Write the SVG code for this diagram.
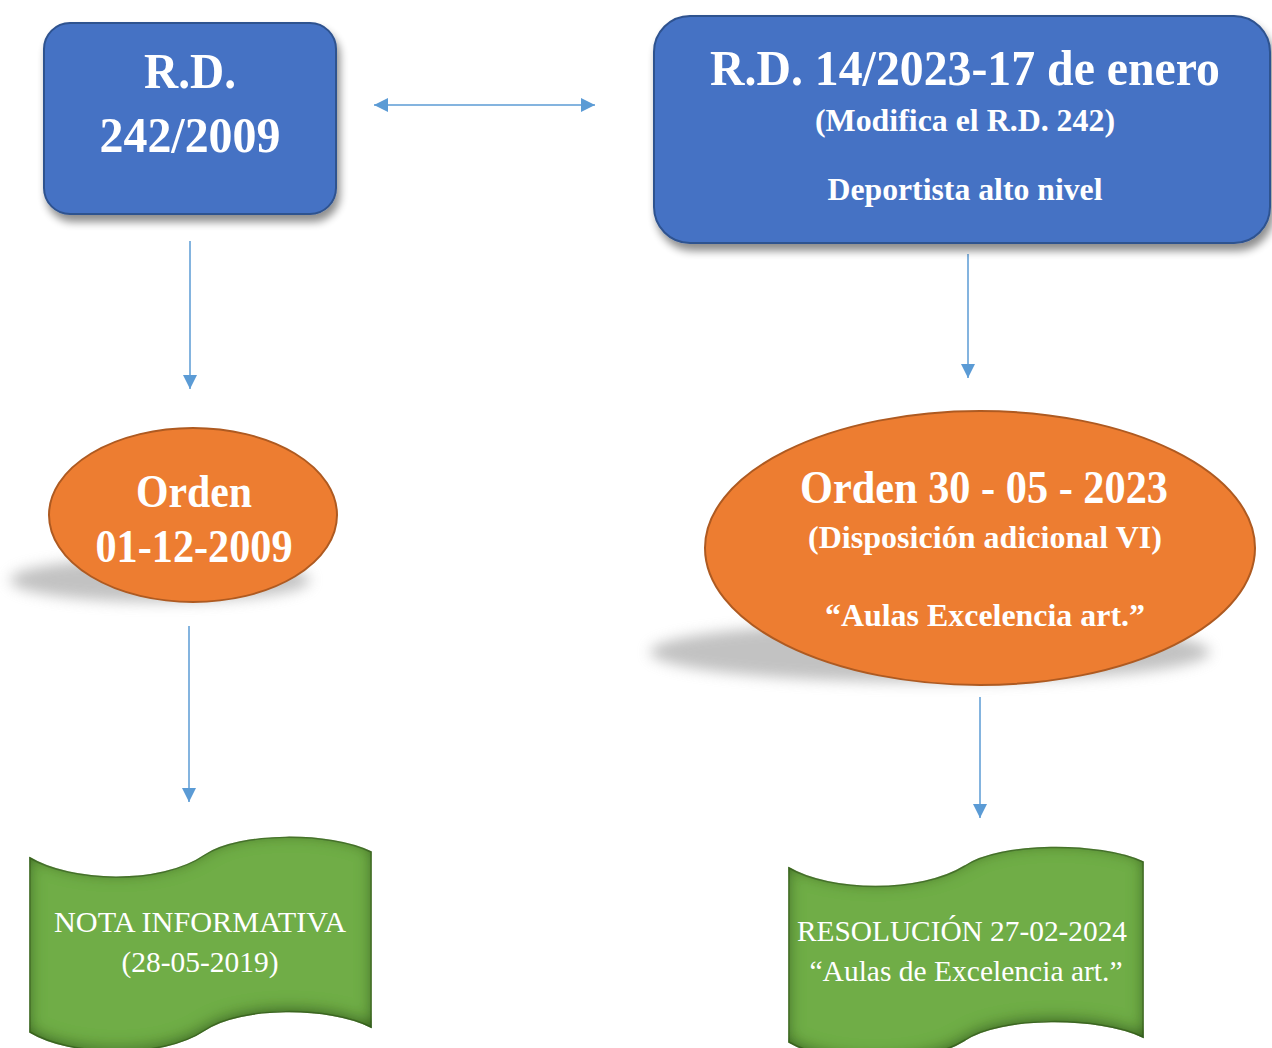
<svg xmlns="http://www.w3.org/2000/svg" width="1272" height="1048" viewBox="0 0 1272 1048">
<defs>
<style>
.box{fill:#4472C4;stroke:#2F528F;stroke-width:2}
.ell{fill:#ED7D31;stroke:#AE5A21;stroke-width:2}
.ban{fill:#70AD47;stroke:#507E32;stroke-width:1.5}
.bt{font-family:"Liberation Serif","Times New Roman",serif;font-weight:bold;fill:#fff;text-anchor:middle}
.rt{font-family:"Liberation Serif","Times New Roman",serif;fill:#fff;text-anchor:middle}
.con{stroke:#5B9BD5;stroke-width:1.5;fill:none}
</style>
<marker id="ah2" viewBox="0 0 10 10" refX="10" refY="5" markerWidth="14" markerHeight="14" markerUnits="userSpaceOnUse" orient="auto-start-reverse">
<path d="M0,0 L10,5 L0,10 Z" fill="#5B9BD5"/>
</marker>
<filter id="ds" x="-10%" y="-10%" width="130%" height="140%">
<feGaussianBlur in="SourceAlpha" stdDeviation="4"/>
<feOffset dx="3" dy="7" result="b"/>
<feComponentTransfer><feFuncA type="linear" slope="0.45"/></feComponentTransfer>
<feMerge><feMergeNode/><feMergeNode in="SourceGraphic"/></feMerge>
</filter>
<filter id="blur" x="-20%" y="-50%" width="140%" height="200%">
<feGaussianBlur stdDeviation="7"/>
</filter>
<filter id="inner" x="-5%" y="-5%" width="110%" height="110%">
<feFlood flood-color="#2a5212" flood-opacity="1"/>
<feComposite in2="SourceAlpha" operator="out"/>
<feGaussianBlur stdDeviation="8"/>
<feOffset dx="0" dy="-3"/>
<feComposite in2="SourceAlpha" operator="in" result="glow"/>
<feMerge><feMergeNode in="SourceGraphic"/><feMergeNode in="glow"/></feMerge>
</filter>
</defs>
<rect width="1272" height="1048" fill="#fff"/>

<g id="connectors">
<line class="con" x1="374" y1="105" x2="595" y2="105" marker-start="url(#ah2)" marker-end="url(#ah2)"/>
<line class="con" x1="190" y1="241" x2="190" y2="389" marker-end="url(#ah2)"/>
<line class="con" x1="968" y1="254" x2="968" y2="378" marker-end="url(#ah2)"/>
<line class="con" x1="189" y1="626" x2="189" y2="802" marker-end="url(#ah2)"/>
<line class="con" x1="980" y1="697" x2="980" y2="818" marker-end="url(#ah2)"/>
</g>

<g id="rd242">
<rect class="box" x="44" y="23" width="292" height="191" rx="26" filter="url(#ds)"/>
<text class="bt" x="190" y="88" font-size="50" textLength="92" lengthAdjust="spacingAndGlyphs">R.D.</text>
<text class="bt" x="190" y="152" font-size="50" textLength="181" lengthAdjust="spacingAndGlyphs">242/2009</text>
</g>

<g id="rd14">
<rect class="box" x="654" y="16" width="616" height="227" rx="36" filter="url(#ds)"/>
<text class="bt" x="965" y="85" font-size="50" textLength="510" lengthAdjust="spacingAndGlyphs">R.D. 14/2023-17 de enero</text>
<text class="bt" x="965" y="131" font-size="32" textLength="300" lengthAdjust="spacingAndGlyphs">(Modifica el R.D. 242)</text>
<text class="bt" x="965" y="200" font-size="32" textLength="275" lengthAdjust="spacingAndGlyphs">Deportista alto nivel</text>
</g>

<g id="orden2009">
<ellipse cx="160" cy="580" rx="150" ry="22" fill="#9a9a9a" opacity="0.6" filter="url(#blur)"/>
<ellipse class="ell" cx="193" cy="515" rx="144" ry="87"/>
<text class="bt" x="194" y="507" font-size="46" textLength="116" lengthAdjust="spacingAndGlyphs">Orden</text>
<text class="bt" x="194" y="562" font-size="46" textLength="197" lengthAdjust="spacingAndGlyphs">01-12-2009</text>
</g>

<g id="orden2023">
<ellipse cx="930" cy="652" rx="280" ry="30" fill="#9a9a9a" opacity="0.6" filter="url(#blur)"/>
<ellipse class="ell" cx="980" cy="548" rx="275" ry="137"/>
<text class="bt" x="984" y="503" font-size="46" textLength="368" lengthAdjust="spacingAndGlyphs">Orden 30 - 05 - 2023</text>
<text class="bt" x="985" y="548" font-size="32" textLength="354" lengthAdjust="spacingAndGlyphs">(Disposición adicional VI)</text>
<text class="bt" x="985" y="626" font-size="32" textLength="320" lengthAdjust="spacingAndGlyphs">“Aulas Excelencia art.”</text>
</g>

<g id="nota">
<path class="ban" filter="url(#inner)" d="M30,858 C70,882 160,886 205,855 C240,832 330,832 371,852 L371,1027 C330,1006 240,1006 205,1030 C160,1060 70,1056 30,1032 Z"/>
<text class="rt" x="200" y="932" font-size="29" textLength="292" lengthAdjust="spacingAndGlyphs">NOTA INFORMATIVA</text>
<text class="rt" x="200" y="972" font-size="29" textLength="157" lengthAdjust="spacingAndGlyphs">(28-05-2019)</text>
</g>

<g id="resolucion">
<path class="ban" filter="url(#inner)" d="M789,868 C830,892 920,894 965,866 C1000,842 1100,842 1143,862 L1143,1037 C1100,1016 1000,1016 965,1040 C920,1068 830,1066 789,1042 Z"/>
<text class="rt" x="962" y="941" font-size="29" textLength="330" lengthAdjust="spacingAndGlyphs">RESOLUCIÓN 27-02-2024</text>
<text class="rt" x="966" y="981" font-size="29" textLength="313" lengthAdjust="spacingAndGlyphs">“Aulas de Excelencia art.”</text>
</g>
</svg>
